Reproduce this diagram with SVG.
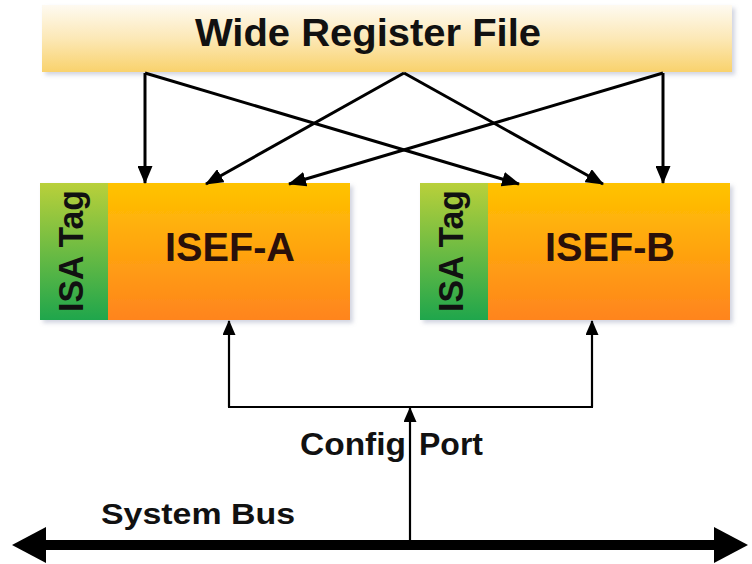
<svg xmlns="http://www.w3.org/2000/svg" width="752" height="564" viewBox="0 0 752 564">
  <style>
    .t { font-family: "Liberation Sans", Arial, sans-serif; font-weight: bold; }
    .wire { fill: none; stroke: #000; stroke-width: 3; }
    .thin { fill: none; stroke: #000; stroke-width: 2.2; }
  </style>
  <defs>
    <linearGradient id="gBar" x1="0" y1="0" x2="0" y2="1">
      <stop offset="0" stop-color="#fefaf1"/>
      <stop offset="0.5" stop-color="#fce8b6"/>
      <stop offset="1" stop-color="#f9d26c"/>
    </linearGradient>
    <linearGradient id="gIsef" x1="0" y1="0" x2="0" y2="1">
      <stop offset="0" stop-color="#ffc300"/>
      <stop offset="1" stop-color="#ff841e"/>
    </linearGradient>
    <linearGradient id="gTag" x1="0" y1="0" x2="0" y2="1">
      <stop offset="0" stop-color="#b9d03a"/>
      <stop offset="1" stop-color="#1fa64c"/>
    </linearGradient>
    <filter id="sh" x="-5%" y="-10%" width="110%" height="130%">
      <feDropShadow dx="3" dy="3" stdDeviation="2" flood-color="#8088a8" flood-opacity="0.35"/>
    </filter>
    <marker id="ah" markerUnits="userSpaceOnUse" markerWidth="18" markerHeight="15" refX="17" refY="7.5" orient="auto">
      <path d="M0,0 L18,7.5 L0,15 Z" fill="#000"/>
    </marker>
    <marker id="ahs" markerUnits="userSpaceOnUse" markerWidth="15" markerHeight="13" refX="14" refY="6.5" orient="auto">
      <path d="M0,0 L15,6.5 L0,13 Z" fill="#000"/>
    </marker>
  </defs>

  <rect width="752" height="564" fill="#fff"/>

  <g id="wide-register-file">
    <rect x="42" y="5" width="690" height="67" fill="url(#gBar)" filter="url(#sh)"/>
    <text class="t" x="368" y="46" font-size="38" text-anchor="middle" textLength="346" lengthAdjust="spacingAndGlyphs" fill="#111">Wide Register File</text>
  </g>

  <g id="isef-a">
    <rect x="40" y="183" width="310" height="137" fill="url(#gIsef)" filter="url(#sh)"/>
    <rect x="40" y="183" width="68" height="137" fill="url(#gTag)"/>
    <text class="t" transform="translate(83,251) rotate(-90)" font-size="35" text-anchor="middle" textLength="122" lengthAdjust="spacingAndGlyphs" fill="#111">ISA Tag</text>
    <text class="t" x="230" y="261" font-size="40" text-anchor="middle" textLength="130" lengthAdjust="spacingAndGlyphs" fill="#2a100a">ISEF-A</text>
  </g>

  <g id="isef-b">
    <rect x="420" y="183" width="310" height="137" fill="url(#gIsef)" filter="url(#sh)"/>
    <rect x="420" y="183" width="68" height="137" fill="url(#gTag)"/>
    <text class="t" transform="translate(463,251) rotate(-90)" font-size="35" text-anchor="middle" textLength="122" lengthAdjust="spacingAndGlyphs" fill="#111">ISA Tag</text>
    <text class="t" x="610" y="261" font-size="40" text-anchor="middle" textLength="130" lengthAdjust="spacingAndGlyphs" fill="#2a100a">ISEF-B</text>
  </g>

  <g id="connectors">
    <line class="wire" x1="145" y1="73" x2="145" y2="183" marker-end="url(#ah)"/>
    <line class="wire" x1="145" y1="73" x2="519" y2="184" marker-end="url(#ah)"/>
    <line class="wire" x1="404" y1="73" x2="206" y2="184" marker-end="url(#ah)"/>
    <line class="wire" x1="404" y1="73" x2="603" y2="184" marker-end="url(#ah)"/>
    <line class="wire" x1="663" y1="73" x2="289" y2="184" marker-end="url(#ah)"/>
    <line class="wire" x1="663" y1="73" x2="663" y2="183" marker-end="url(#ah)"/>

    <polyline class="thin" points="229,407 229,321" marker-end="url(#ahs)"/>
    <polyline class="thin" points="592,407 592,321" marker-end="url(#ahs)"/>
    <line class="thin" x1="228" y1="407" x2="593" y2="407"/>
    <line class="thin" x1="410" y1="541" x2="410" y2="408" marker-end="url(#ahs)"/>

    <line x1="42" y1="545" x2="716" y2="545" stroke="#000" stroke-width="10"/>
    <path d="M12,545 L46,527 L46,563 Z" fill="#000"/>
    <path d="M748,545 L714,527 L714,563 Z" fill="#000"/>
  </g>

  <text class="t" x="300" y="455" font-size="31" textLength="106" lengthAdjust="spacingAndGlyphs" fill="#111">Config</text>
  <text class="t" x="419" y="455" font-size="31" textLength="64" lengthAdjust="spacingAndGlyphs" fill="#111">Port</text>
  <text class="t" x="198" y="524" font-size="30" text-anchor="middle" textLength="194" lengthAdjust="spacingAndGlyphs" fill="#111">System Bus</text>
</svg>
